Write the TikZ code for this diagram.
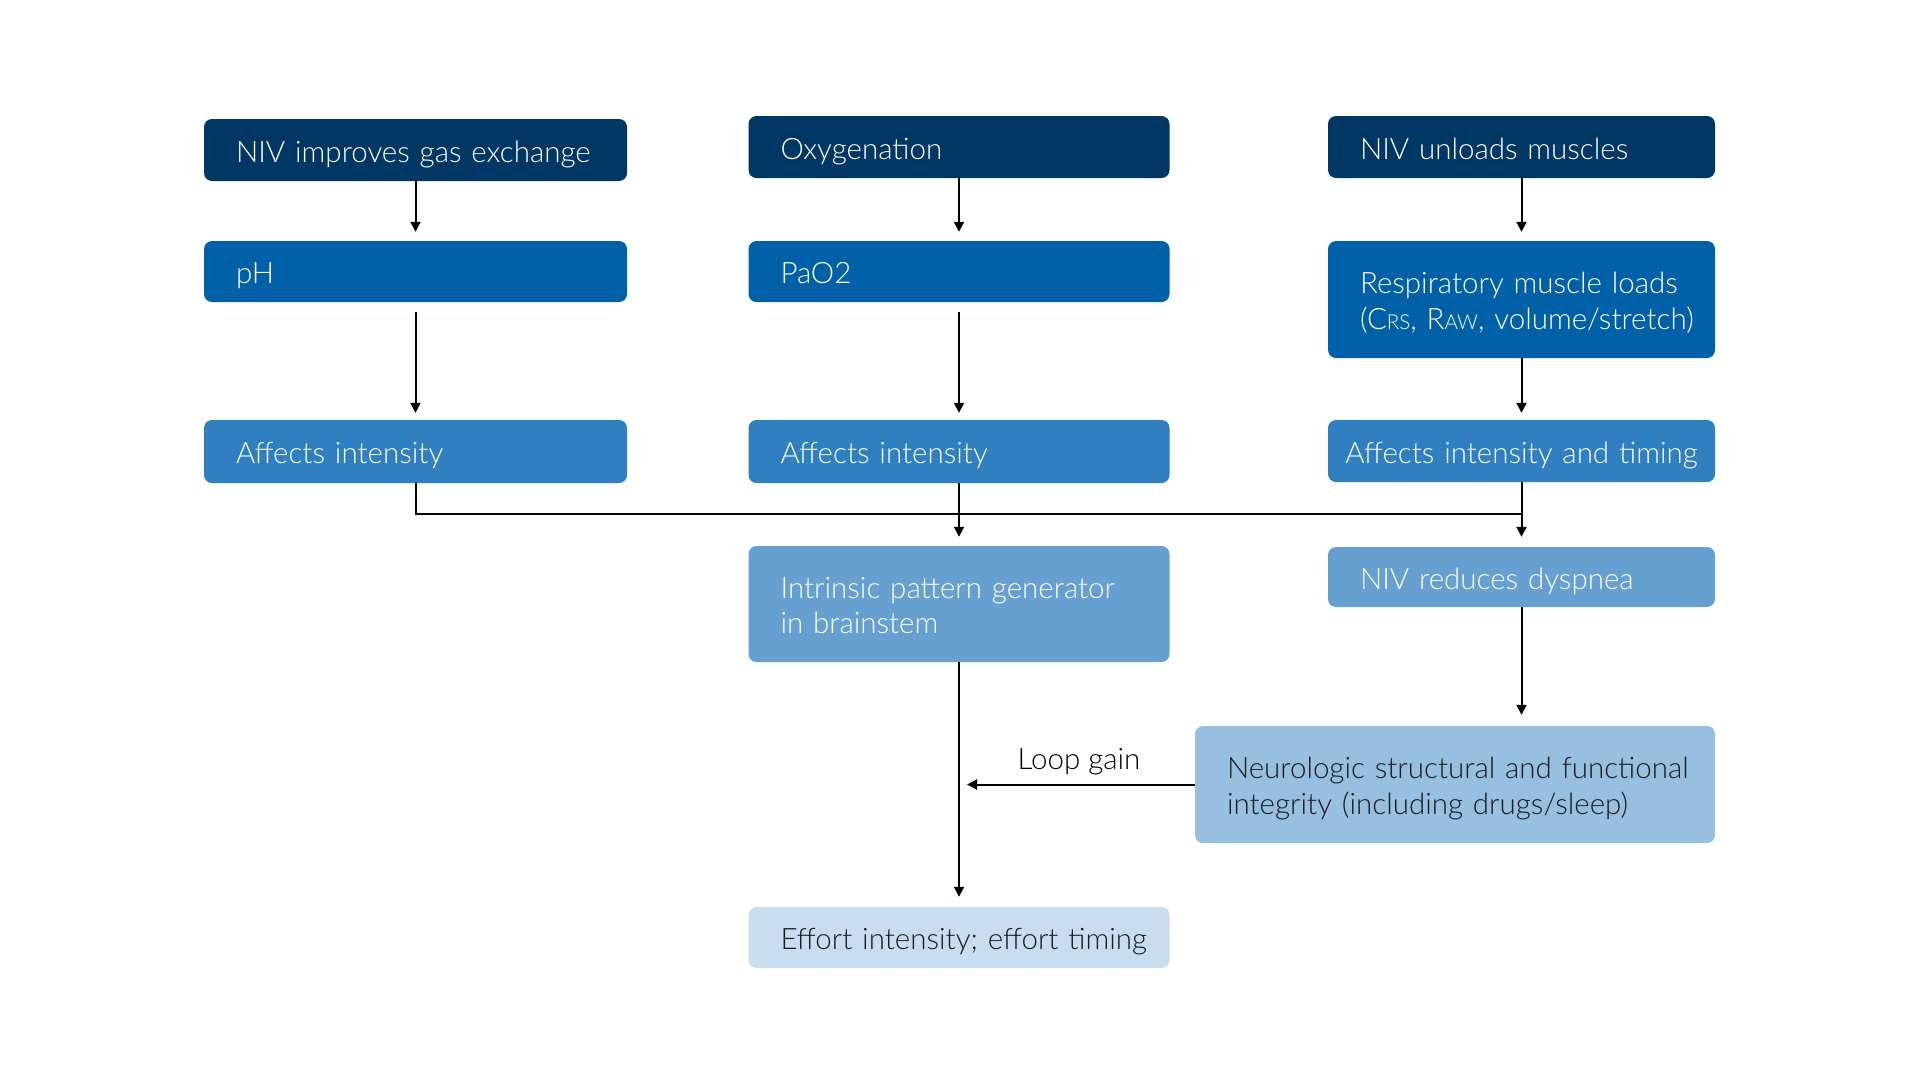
\documentclass[tikz,border=0pt]{standalone}
\usepackage{fontspec}
\setmainfont{Lato Light}
\usetikzlibrary{arrows.meta}
\definecolor{cNavy}{HTML}{003764}
\definecolor{cBlue}{HTML}{0060A8}
\definecolor{cMid}{HTML}{2F7FC1}
\definecolor{cLight}{HTML}{66A0D0}
\definecolor{cPale}{HTML}{96BFE0}
\definecolor{cPaler}{HTML}{C9DDF0}
\definecolor{cInk}{HTML}{1A1A1A}
\newcommand{\smc}[1]{{\fontsize{20.5}{20.5}\selectfont #1}}
\newcommand{\oneline}[1]{\mbox{#1}}
\begin{document}
\begin{tikzpicture}[x=1pt,y=-1pt,
  every node/.style={font=\fontsize{29.5}{35.5}\selectfont},
  boxbase/.style={rounded corners=8pt, inner ysep=0pt, inner xsep=32pt, align=left,
    execute at begin node={\leavevmode\rule[-6pt]{0pt}{36pt}},
    execute at end node={\rule[-6pt]{0pt}{30pt}}},
  colA/.style={boxbase, text width=359pt},
  colB/.style={boxbase, text width=357pt},
  colC/.style={boxbase, text width=323pt},
  navybox/.style={fill=cNavy, text=white},
  bluebox/.style={fill=cBlue, text=white},
  midbox/.style={fill=cMid, text=white},
  lightbox/.style={fill=cLight, text=white},
  palebox/.style={fill=cPale, text=cInk},
  palerbox/.style={fill=cPaler, text=cInk},
  arr/.style={draw=black, line width=2pt, -{Triangle[width=10pt,length=10pt]}},
  ln/.style={draw=black, line width=2pt}
]
\useasboundingbox (0,0) rectangle (1920,1080);
\fill[white] (0,0) rectangle (1920,1080);

% row 1
\node[colA, navybox, minimum height=62pt] (b1) at (415.5,150) {\oneline{NIV improves gas exchange}};
\node[colB, navybox, minimum height=62pt] (b2) at (959,147) {\oneline{Oxygenation}};
\node[colC, navybox, minimum height=62pt] (b3) at (1521.5,147) {\oneline{NIV unloads muscles}};
% row 2
\node[colA, bluebox, minimum height=61pt] (ph) at (415.5,271.5) {\oneline{pH}};
\node[colB, bluebox, minimum height=61pt] (pao) at (959,271.5) {\oneline{PaO2}};
\node[colC, bluebox, minimum height=117pt] (resp) at (1521.5,299.5) {\oneline{Respiratory muscle loads}\\\oneline{(C\smc{RS}, R\smc{AW}, volume/stretch)}};
% row 3
\node[colA, midbox, minimum height=63pt] (a1) at (415.5,451.5) {\oneline{Affects intensity}};
\node[colB, midbox, minimum height=63pt] (a2) at (959,451.5) {\oneline{Affects intensity}};
\node[boxbase, midbox, minimum height=62pt, text width=387pt, inner xsep=0pt, align=center] (a3) at (1521.5,451) {\oneline{Affects intensity and timing}};
% row 4
\node[colB, lightbox, minimum height=116pt] (ipg) at (959,604) {\oneline{Intrinsic pattern generator}\\\oneline{in brainstem}};
\node[colC, lightbox, minimum height=60pt] (dys) at (1521.5,577) {\oneline{NIV reduces dyspnea}};
% row 5
\node[boxbase, palebox, text width=456pt, minimum height=117pt] (neuro) at (1455,784.5) {\oneline{Neurologic structural and functional}\\\oneline{integrity (including drugs/sleep)}};
% row 6
\node[colB, palerbox, minimum height=61pt] (eff) at (959,937.5) {\oneline{Effort intensity; effort timing}};

% connectors
\coordinate (j) at (1521.5,514);
\draw[arr, shorten >=9pt] (b1.south) -- (ph.north);
\draw[arr, shorten >=9pt] (b2.south) -- (pao.north);
\draw[arr, shorten >=9pt] (b3.south) -- (resp.north);
\draw[arr, shorten <=10pt, shorten >=7pt] (ph.south) -- (a1.north);
\draw[arr, shorten <=10pt, shorten >=7pt] (pao.south) -- (a2.north);
\draw[arr, shorten >=7pt] (resp.south) -- (a3.north);
\draw[ln] (a1.south) |- (j);
\draw[arr, shorten >=9pt] (a2.south) -- (ipg.north);
\draw[arr, shorten >=10pt] (a3.south) -- (dys.north);
\draw[arr, shorten >=10pt] (ipg.south) -- (eff.north);
\draw[arr, shorten >=11pt] (dys.south) -- (dys.south |- neuro.north);
\coordinate (lg) at (ipg.south |- neuro.west);
\draw[arr, shorten >=8pt] (neuro.west) -- (lg);
\node[text=black, inner sep=0pt] (lgl) at (1079,762) {Loop gain};
\end{tikzpicture}
\end{document}
